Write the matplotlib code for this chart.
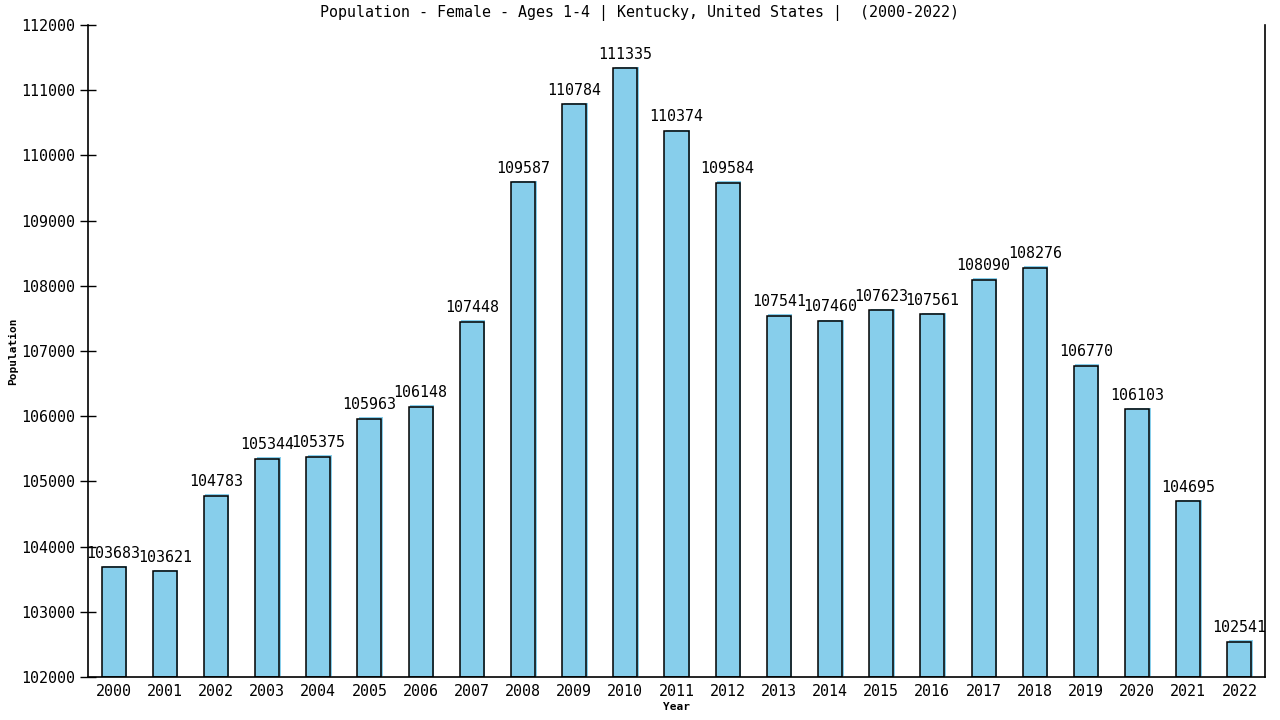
import matplotlib
matplotlib.use("Agg")
import matplotlib.pyplot as plt
import matplotlib.transforms as mtrans

years = [str(y) for y in range(2000, 2023)]
population = [103683, 103621, 104783, 105344, 105375, 105963, 106148, 107448,
              109587, 110784, 111335, 110374, 109584, 107541, 107460, 107623,
              107561, 108090, 108276, 106770, 106103, 104695, 102541]

plt.rcParams['font.family'] = ['DejaVu Sans Mono']

fig = plt.figure(figsize=(12.8, 7.2), dpi=100)
ax = fig.add_axes([88/1280, 43/720, 1177/1280, 652/720])

x = list(range(len(years)))
bottom = 102000
heights = [v - bottom for v in population]

# light shadow, shifted a little up/right
shadow = mtrans.offset_copy(ax.transData, fig=fig, x=1.5, y=1.5, units='dots')
ax.bar(x, heights, bottom=bottom, width=0.47, color='#87ceeb', linewidth=0, transform=shadow)
ax.bar(x, heights, bottom=bottom, width=0.47, color='#87ceeb', edgecolor='black', linewidth=1.1)

for xi, v in zip(x, population):
    ax.text(xi, v + 100, str(v), ha='center', va='bottom', fontsize=10.8)

ax.set_xlim(-0.5, 22.5)
ax.set_ylim(102000, 112000)
ax.set_yticks(range(102000, 112001, 1000))
ax.set_xticks(x)
ax.set_xticklabels(years)
ax.tick_params(axis='y', direction='inout', length=12, width=1, labelsize=10.8)
ax.tick_params(axis='x', length=0, labelsize=10.8, pad=5)

ax.spines['top'].set_visible(False)
for s in ['left', 'right', 'bottom']:
    ax.spines[s].set_linewidth(1.2)

ax.set_xlabel('Year', fontsize=8, fontweight='bold', labelpad=2)
ax.set_ylabel('Population', fontsize=8, fontweight='bold', labelpad=2)
fig.text(0.5, 1 - 13/720, 'Population - Female - Ages 1-4 | Kentucky, United States |  (2000-2022)',
         ha='center', va='center', fontsize=10.8)

fig.savefig('out.png', dpi=100)
